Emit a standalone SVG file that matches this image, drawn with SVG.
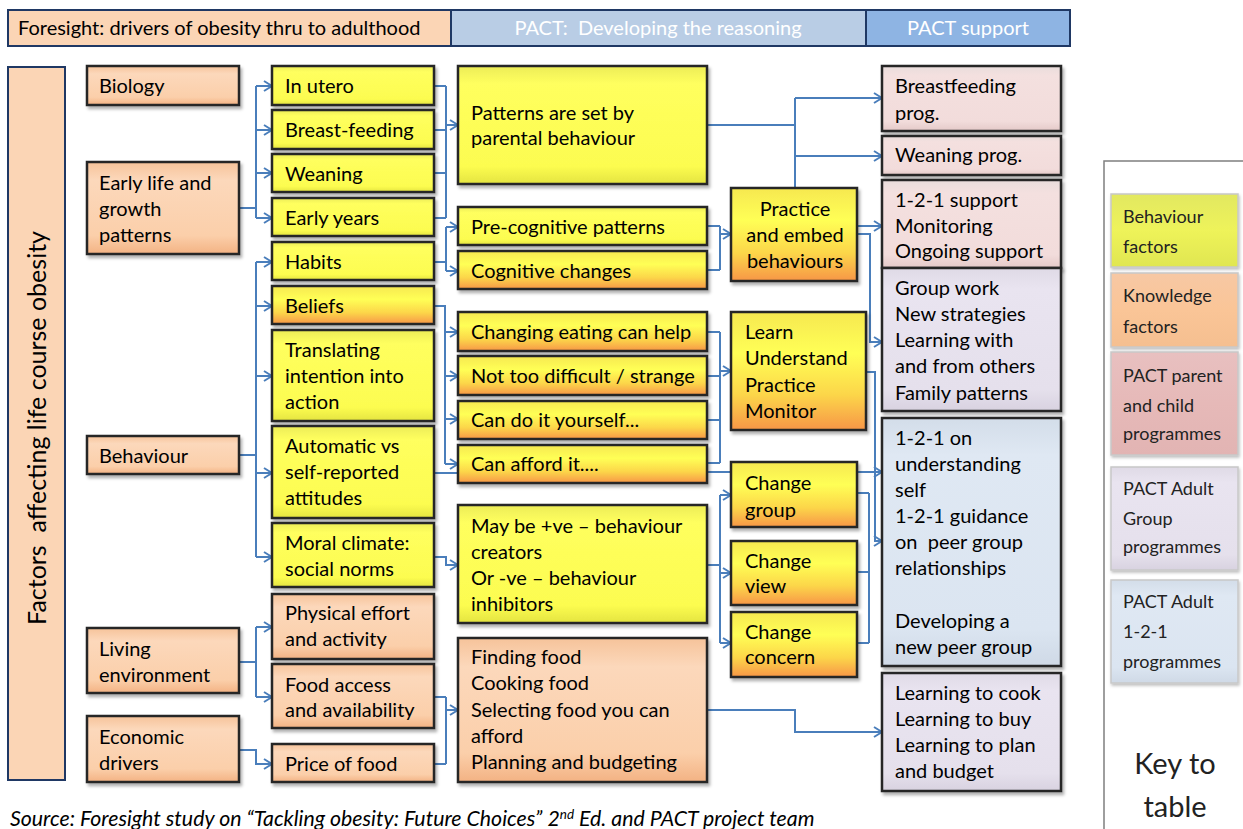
<svg xmlns="http://www.w3.org/2000/svg" width="1243" height="829" viewBox="0 0 1243 829">
<defs>
<style>
.t{font-family:Lato,"Open Sans","Liberation Sans",sans-serif;font-size:20px;fill:#000}
.h{font-family:Lato,"Open Sans","Liberation Sans",sans-serif;font-size:20px}
.k{font-family:"Liberation Sans Narrow",Lato,"Liberation Sans",sans-serif;font-size:18px;fill:#222}
.box{stroke:#262626;stroke-width:2.5;filter:url(#sh)}
.c{fill:none;stroke:#4a7ebb;stroke-width:2}
.a{fill:none;stroke:#4a7ebb;stroke-width:2;marker-end:url(#arr)}
.kb{stroke:#c8c8c8;stroke-width:1.5;filter:url(#sh2)}
</style>
<filter id="sh" x="-5%" y="-10%" width="115%" height="130%"><feDropShadow dx="2" dy="3" stdDeviation="1.5" flood-color="#000" flood-opacity="0.3"/></filter>
<filter id="sh2" x="-5%" y="-10%" width="115%" height="130%"><feDropShadow dx="1" dy="2" stdDeviation="1.5" flood-color="#000" flood-opacity="0.25"/></filter>
<linearGradient id="gy" x1="0" y1="0" x2="0" y2="1"><stop offset="0" stop-color="#ecec58"/><stop offset="0.15" stop-color="#ffff5e"/><stop offset="0.85" stop-color="#fcfc50"/><stop offset="1" stop-color="#e4e440"/></linearGradient>
<linearGradient id="go" x1="0" y1="0" x2="0" y2="1"><stop offset="0" stop-color="#f6e850"/><stop offset="0.35" stop-color="#ffff55"/><stop offset="0.7" stop-color="#fcd64a"/><stop offset="1" stop-color="#f79646"/></linearGradient>
<linearGradient id="gp" x1="0" y1="0" x2="0" y2="1"><stop offset="0" stop-color="#f6c39a"/><stop offset="0.2" stop-color="#fcd8bb"/><stop offset="0.8" stop-color="#fbcfaa"/><stop offset="1" stop-color="#f3b283"/></linearGradient>
<linearGradient id="gk" x1="0" y1="0" x2="0" y2="1"><stop offset="0" stop-color="#e9dddc"/><stop offset="0.15" stop-color="#f4e0df"/><stop offset="0.85" stop-color="#f2dcdb"/><stop offset="1" stop-color="#e4c9c8"/></linearGradient>
<linearGradient id="gl" x1="0" y1="0" x2="0" y2="1"><stop offset="0" stop-color="#dfdae6"/><stop offset="0.15" stop-color="#e9e4f0"/><stop offset="0.85" stop-color="#e5e0ec"/><stop offset="1" stop-color="#d8d2e0"/></linearGradient>
<linearGradient id="gb" x1="0" y1="0" x2="0" y2="1"><stop offset="0" stop-color="#d3dde9"/><stop offset="0.15" stop-color="#dfe8f3"/><stop offset="0.85" stop-color="#dbe5f1"/><stop offset="1" stop-color="#cfd9e6"/></linearGradient>
<linearGradient id="kyy" x1="0" y1="0" x2="0" y2="1"><stop offset="0" stop-color="#e2e860"/><stop offset="0.5" stop-color="#eef35a"/><stop offset="1" stop-color="#e0e650"/></linearGradient>
<linearGradient id="kpp" x1="0" y1="0" x2="0" y2="1"><stop offset="0" stop-color="#f7c8a4"/><stop offset="0.5" stop-color="#fac597"/><stop offset="1" stop-color="#f5bf90"/></linearGradient>
<linearGradient id="kpk" x1="0" y1="0" x2="0" y2="1"><stop offset="0" stop-color="#e8c0c0"/><stop offset="0.5" stop-color="#e6b9b8"/><stop offset="1" stop-color="#e2b4b3"/></linearGradient>
<marker id="arr" viewBox="0 0 10 12" refX="9" refY="6" markerWidth="10" markerHeight="12" markerUnits="userSpaceOnUse" orient="auto"><path d="M1,1 L9,6 L1,11" fill="none" stroke="#4a7ebb" stroke-width="2"/></marker>
</defs>
<rect width="1243" height="829" fill="#ffffff"/>

<g id="header">
<rect x="8" y="10" width="443" height="36" fill="#fbd5b5" stroke="#1f3864" stroke-width="2"/>
<rect x="451" y="10" width="415" height="36" fill="#b9cde5" stroke="#1f3864" stroke-width="2"/>
<rect x="866" y="10" width="204" height="36" fill="#8eb4e3" stroke="#1f3864" stroke-width="2"/>
<text class="h" x="18" y="35" fill="#000">Foresight: drivers of obesity thru to adulthood</text>
<text class="h" x="658" y="35" fill="#ffffff" text-anchor="middle" xml:space="preserve">PACT:  Developing the reasoning</text>
<text class="h" x="968" y="35" fill="#ffffff" text-anchor="middle">PACT support</text>
</g>

<g id="factors">
<rect x="8" y="67" width="57" height="713" fill="#fbd5b5" stroke="#1f3864" stroke-width="2"/>
<text class="t" transform="translate(46,428) rotate(-90)" text-anchor="middle" style="font-size:25px" xml:space="preserve">Factors  affecting life course obesity</text>
</g>

<g id="connectors">
<path class="c" d="M239,208 H256 M256,86 V218"/>
<path class="a" d="M256,86 H272"/><path class="a" d="M256,130 H272"/><path class="a" d="M256,173 H272"/><path class="a" d="M256,218 H272"/>
<path class="c" d="M239,455 H256 M256,262 V557"/>
<path class="a" d="M256,262 H272"/><path class="a" d="M256,306 H272"/><path class="a" d="M256,376 H272"/><path class="a" d="M256,473 H272"/><path class="a" d="M256,557 H272"/>
<path class="c" d="M239,662 H256 M256,627 V697"/>
<path class="a" d="M256,627 H272"/><path class="a" d="M256,697 H272"/>
<path class="a" d="M239,750 H256 V764 H272"/>
<path class="c" d="M434,86 H446 M434,130 H446 M434,173 H446 M434,218 H446 M446,86 V218"/>
<path class="a" d="M446,125 H458"/>
<path class="c" d="M434,262 H446 M446,227 V271"/>
<path class="a" d="M446,227 H458"/><path class="a" d="M446,271 H458"/>
<path class="c" d="M434,306 H445 V464"/>
<path class="a" d="M445,332 H458"/><path class="a" d="M445,376 H458"/><path class="a" d="M445,419 H458"/><path class="a" d="M445,464 H458"/>
<path class="c" d="M434,473 H458"/>
<path class="a" d="M434,557 H446 V565 H458"/>
<path class="c" d="M434,697 H446 M434,764 H446 M446,697 V764"/>
<path class="a" d="M446,710 H458"/>
<path class="c" d="M707,226 H720 M707,270 H720 M720,226 V270"/>
<path class="a" d="M720,234 H731"/>
<path class="c" d="M707,332 H720 M707,376 H720 M707,420 H720 M707,463 H720 M720,332 V463"/>
<path class="a" d="M720,371 H731"/>
<path class="c" d="M707,472 H731"/>
<path class="c" d="M707,565 H720 M720,495 V643"/>
<path class="a" d="M720,495 H731"/><path class="a" d="M720,573 H731"/><path class="a" d="M720,643 H731"/>
<path class="c" d="M707,125 H795 M795,98 V188"/>
<path class="a" d="M795,98 H882"/><path class="a" d="M795,156 H882"/>
<path class="a" d="M857,226 H882"/>
<path class="a" d="M857,234 H870 V342 H882"/>
<path class="a" d="M857,472 H882"/>
<path class="a" d="M866,372 H875 V541 H882"/>
<path class="c" d="M857,493 H869 M857,572 H869 M857,643 H869 M869,493 V643"/>
<path class="a" d="M707,710 H795 V732 H882"/>
</g>

<g id="biology"><rect class="box" x="87" y="66" width="152" height="39" fill="url(#gp)"/><text class="t" x="99" y="93">Biology</text></g>
<g id="early-life"><rect class="box" x="87" y="162" width="152" height="92" fill="url(#gp)"/><text class="t" x="99" y="190">Early life and</text><text class="t" x="99" y="216">growth</text><text class="t" x="99" y="242">patterns</text></g>
<g id="behaviour"><rect class="box" x="87" y="436" width="152" height="38" fill="url(#gp)"/><text class="t" x="99" y="463">Behaviour</text></g>
<g id="living-env"><rect class="box" x="87" y="628" width="152" height="65" fill="url(#gp)"/><text class="t" x="99" y="656">Living</text><text class="t" x="99" y="682">environment</text></g>
<g id="economic"><rect class="box" x="87" y="716" width="152" height="66" fill="url(#gp)"/><text class="t" x="99" y="744">Economic</text><text class="t" x="99" y="770">drivers</text></g>

<g id="in-utero"><rect class="box" x="272" y="66" width="162" height="39" fill="url(#gy)"/><text class="t" x="285" y="93">In utero</text></g>
<g id="breast-feeding"><rect class="box" x="272" y="110" width="162" height="39" fill="url(#gy)"/><text class="t" x="285" y="137">Breast-feeding</text></g>
<g id="weaning"><rect class="box" x="272" y="154" width="162" height="38" fill="url(#gy)"/><text class="t" x="285" y="181">Weaning</text></g>
<g id="early-years"><rect class="box" x="272" y="198" width="162" height="38" fill="url(#gy)"/><text class="t" x="285" y="225">Early years</text></g>
<g id="habits"><rect class="box" x="272" y="242" width="162" height="38" fill="url(#gy)"/><text class="t" x="285" y="269">Habits</text></g>
<g id="beliefs"><rect class="box" x="272" y="286" width="162" height="38" fill="url(#go)"/><text class="t" x="285" y="313">Beliefs</text></g>
<g id="translating"><rect class="box" x="272" y="330" width="162" height="91" fill="url(#gy)"/><text class="t" x="285" y="357">Translating</text><text class="t" x="285" y="383">intention into</text><text class="t" x="285" y="409">action</text></g>
<g id="automatic"><rect class="box" x="272" y="426" width="162" height="92" fill="url(#gy)"/><text class="t" x="285" y="453">Automatic vs</text><text class="t" x="285" y="479">self-reported</text><text class="t" x="285" y="505">attitudes</text></g>
<g id="moral"><rect class="box" x="272" y="523" width="162" height="64" fill="url(#gy)"/><text class="t" x="285" y="550">Moral climate:</text><text class="t" x="285" y="576">social norms</text></g>
<g id="physical"><rect class="box" x="272" y="594" width="162" height="65" fill="url(#gp)"/><text class="t" x="285" y="620">Physical effort</text><text class="t" x="285" y="646">and activity</text></g>
<g id="food-access"><rect class="box" x="272" y="664" width="162" height="64" fill="url(#gp)"/><text class="t" x="285" y="692">Food access</text><text class="t" x="285" y="717">and availability</text></g>
<g id="price"><rect class="box" x="272" y="744" width="162" height="38" fill="url(#gp)"/><text class="t" x="285" y="771">Price of food</text></g>

<g id="patterns"><rect class="box" x="458" y="66" width="249" height="118" fill="url(#gy)"/><text class="t" x="471" y="120">Patterns are set by</text><text class="t" x="471" y="145">parental behaviour</text></g>
<g id="pre-cognitive"><rect class="box" x="458" y="207" width="249" height="38" fill="url(#gy)"/><text class="t" x="471" y="234">Pre-cognitive patterns</text></g>
<g id="cognitive"><rect class="box" x="458" y="251" width="249" height="38" fill="url(#go)"/><text class="t" x="471" y="278">Cognitive changes</text></g>
<g id="changing-eating"><rect class="box" x="458" y="312" width="249" height="39" fill="url(#go)"/><text class="t" x="471" y="339">Changing eating can help</text></g>
<g id="not-difficult"><rect class="box" x="458" y="356" width="249" height="39" fill="url(#go)"/><text class="t" x="471" y="383">Not too difficult / strange</text></g>
<g id="can-do"><rect class="box" x="458" y="401" width="249" height="38" fill="url(#go)"/><text class="t" x="471" y="427">Can do it yourself...</text></g>
<g id="can-afford"><rect class="box" x="458" y="445" width="249" height="38" fill="url(#go)"/><text class="t" x="471" y="471">Can afford it....</text></g>
<g id="may-be"><rect class="box" x="458" y="505" width="249" height="118" fill="url(#gy)"/><text class="t" x="471" y="533">May be +ve – behaviour</text><text class="t" x="471" y="559">creators</text><text class="t" x="471" y="585">Or -ve – behaviour</text><text class="t" x="471" y="611">inhibitors</text></g>
<g id="finding-food"><rect class="box" x="458" y="638" width="249" height="144" fill="url(#gp)"/><text class="t" x="471" y="664">Finding food</text><text class="t" x="471" y="690">Cooking food</text><text class="t" x="471" y="717">Selecting food you can</text><text class="t" x="471" y="743">afford</text><text class="t" x="471" y="769">Planning and budgeting</text></g>

<g id="practice"><rect class="box" x="731" y="188" width="126" height="93" fill="url(#go)"/><text class="t" x="795" y="216" text-anchor="middle">Practice</text><text class="t" x="795" y="242" text-anchor="middle">and embed</text><text class="t" x="795" y="268" text-anchor="middle">behaviours</text></g>
<g id="learn"><rect class="box" x="731" y="312" width="135" height="118" fill="url(#go)"/><text class="t" x="745" y="339">Learn</text><text class="t" x="745" y="365">Understand</text><text class="t" x="745" y="392">Practice</text><text class="t" x="745" y="418">Monitor</text></g>
<g id="change-group"><rect class="box" x="731" y="462" width="126" height="65" fill="url(#go)"/><text class="t" x="745" y="490">Change</text><text class="t" x="745" y="517">group</text></g>
<g id="change-view"><rect class="box" x="731" y="541" width="126" height="64" fill="url(#go)"/><text class="t" x="745" y="568">Change</text><text class="t" x="745" y="593">view</text></g>
<g id="change-concern"><rect class="box" x="731" y="612" width="126" height="65" fill="url(#go)"/><text class="t" x="745" y="639">Change</text><text class="t" x="745" y="664">concern</text></g>

<g id="breastfeeding-prog"><rect class="box" x="882" y="66" width="179" height="65" fill="url(#gk)"/><text class="t" x="895" y="93">Breastfeeding</text><text class="t" x="895" y="120">prog.</text></g>
<g id="weaning-prog"><rect class="box" x="882" y="136" width="179" height="39" fill="url(#gk)"/><text class="t" x="895" y="162">Weaning prog.</text></g>
<g id="support-121"><rect class="box" x="882" y="180" width="179" height="88" fill="url(#gk)"/><text class="t" x="895" y="207">1-2-1 support</text><text class="t" x="895" y="233">Monitoring</text><text class="t" x="895" y="258">Ongoing support</text></g>
<g id="group-work"><rect class="box" x="882" y="268" width="179" height="143" fill="url(#gl)"/><text class="t" x="895" y="295">Group work</text><text class="t" x="895" y="321">New strategies</text><text class="t" x="895" y="347">Learning with</text><text class="t" x="895" y="373">and from others</text><text class="t" x="895" y="400">Family patterns</text></g>
<g id="understanding-121"><rect class="box" x="882" y="418" width="179" height="248" fill="url(#gb)"/><text class="t" x="895" y="445">1-2-1 on</text><text class="t" x="895" y="471">understanding</text><text class="t" x="895" y="497">self</text><text class="t" x="895" y="523">1-2-1 guidance</text><text class="t" x="895" y="549" xml:space="preserve">on  peer group</text><text class="t" x="895" y="575">relationships</text><text class="t" x="895" y="628">Developing a</text><text class="t" x="895" y="654">new peer group</text></g>
<g id="learning-cook"><rect class="box" x="882" y="673" width="179" height="118" fill="url(#gl)"/><text class="t" x="895" y="700">Learning to cook</text><text class="t" x="895" y="726">Learning to buy</text><text class="t" x="895" y="752">Learning to plan</text><text class="t" x="895" y="778">and budget</text></g>

<g id="key">
<rect x="1104" y="161" width="160" height="700" fill="#ffffff" stroke="#7f7f7f" stroke-width="1.5"/>
<rect class="kb" x="1111" y="194" width="127" height="73" fill="url(#kyy)"/>
<text class="k" x="1123" y="223">Behaviour</text><text class="k" x="1123" y="253">factors</text>
<rect class="kb" x="1111" y="273" width="127" height="74" fill="url(#kpp)"/>
<text class="k" x="1123" y="302">Knowledge</text><text class="k" x="1123" y="333">factors</text>
<rect class="kb" x="1111" y="352" width="127" height="103" fill="url(#kpk)"/>
<text class="k" x="1123" y="382">PACT parent</text><text class="k" x="1123" y="412">and child</text><text class="k" x="1123" y="440">programmes</text>
<rect class="kb" x="1111" y="467" width="127" height="103" fill="url(#gl)"/>
<text class="k" x="1123" y="495">PACT Adult</text><text class="k" x="1123" y="525">Group</text><text class="k" x="1123" y="553">programmes</text>
<rect class="kb" x="1111" y="580" width="127" height="103" fill="url(#gb)"/>
<text class="k" x="1123" y="608">PACT Adult</text><text class="k" x="1123" y="638">1-2-1</text><text class="k" x="1123" y="668">programmes</text>
<text class="k" x="1175" y="774" text-anchor="middle" style="font-size:29px">Key to</text>
<text class="k" x="1175" y="817" text-anchor="middle" style="font-size:29px">table</text>
</g>

<g id="source">
<text class="t" x="10" y="826" style="font-style:italic;font-size:21.3px">Source: Foresight study on “Tackling obesity: Future Choices” 2<tspan dy="-7" style="font-size:13.5px">nd</tspan><tspan dy="7"> Ed. and PACT project team</tspan></text>
</g>
</svg>
